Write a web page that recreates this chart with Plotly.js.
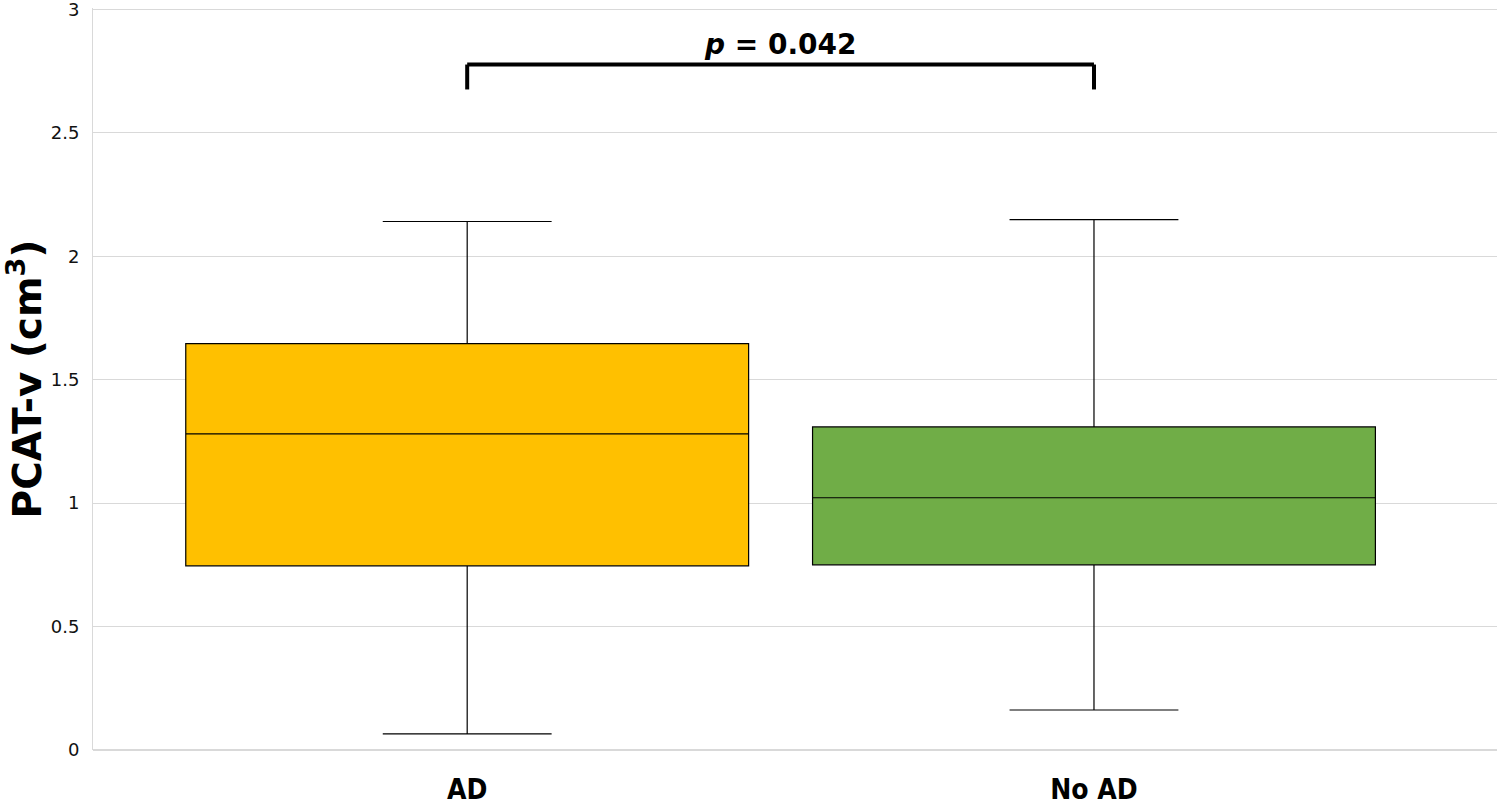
<!DOCTYPE html>
<html>
<head>
<meta charset="utf-8">
<script src="https://cdn.plot.ly/plotly-3.0.1.min.js"></script>
<style>html,body{margin:0;padding:0;background:#fff;}#chart{width:1499px;height:809px;}</style>
</head>
<body>
<div id="chart"></div>
<script>
const categories = ["AD", "No AD"];
const positions = [0, 1];
const lowerWhisker = [0.065, 0.162];
const q1Values = [0.746, 0.750];
const medianValues = [1.281, 1.022];
const q3Values = [1.646, 1.309];
const upperWhisker = [2.141, 2.149];
const boxColors = ["#FFC000", "#70AD47"];
const yTickValues = [0, 0.5, 1, 1.5, 2, 2.5, 3];
const yTickLabels = ["0", "0.5", "1", "1.5", "2", "2.5", "3"];
const pLabel = "<b><i>p</i> = 0.042</b>";
const bracketY = 2.777;
const bracketDrop = 2.676;

const traces = categories.map((c, i) => ({
  type: "box",
  name: c,
  x: [positions[i]],
  q1: [q1Values[i]],
  median: [medianValues[i]],
  q3: [q3Values[i]],
  lowerfence: [lowerWhisker[i]],
  upperfence: [upperWhisker[i]],
  width: 0.898,
  whiskerwidth: 0.3,
  fillcolor: boxColors[i],
  line: {color: "#000000", width: 1.2},
  boxpoints: false,
  hoverinfo: "skip",
  showlegend: false
}));

const layout = {
  width: 1499,
  height: 809,
  margin: {l: 93, r: 2, t: 8, b: 59},
  paper_bgcolor: "#ffffff",
  plot_bgcolor: "#ffffff",
  xaxis: {
    range: [-0.597, 1.643],
    tickvals: positions,
    ticktext: categories.map(c => "<b>" + c + "</b>"),
    tickfont: {family: "Liberation Sans Narrow, DejaVu Sans Condensed, Liberation Sans, Arial, sans-serif", size: 28, color: "#000"},
    showgrid: false,
    zeroline: false,
    showline: false,
    ticks: "",
    ticklabelstandoff: 20
  },
  yaxis: {
    range: [0, 3.006],
    tickvals: yTickValues,
    ticktext: yTickLabels,
    tickfont: {family: "DejaVu Sans, Verdana, sans-serif", size: 18, color: "#111"},
    showgrid: true,
    gridcolor: "#d9d9d9",
    gridwidth: 1,
    zeroline: true,
    zerolinecolor: "#d9d9d9",
    zerolinewidth: 1.5,
    showline: true,
    linecolor: "#d9d9d9",
    linewidth: 1,
    ticks: "",
    ticklabelstandoff: 9,
    ticklabeloverflow: "allow",
    title: {
      text: "<b>PCAT-v (cm<sup>3</sup>)</b>",
      font: {family: "DejaVu Sans, Verdana, sans-serif", size: 39, color: "#000"},
      standoff: 8
    }
  },
  shapes: [
    {type: "line", xref: "x", yref: "y", x0: positions[0], x1: positions[1], y0: bracketY, y1: bracketY, line: {color: "#000", width: 4}},
    {type: "line", xref: "x", yref: "y", x0: positions[0], x1: positions[0], y0: bracketY, y1: bracketDrop, line: {color: "#000", width: 4}},
    {type: "line", xref: "x", yref: "y", x0: positions[1], x1: positions[1], y0: bracketY, y1: bracketDrop, line: {color: "#000", width: 4}}
  ],
  annotations: [
    {
      xref: "x", yref: "y",
      x: (positions[0] + positions[1]) / 2,
      y: bracketY,
      yanchor: "bottom",
      yshift: 2,
      showarrow: false,
      text: pLabel,
      font: {family: "DejaVu Sans, Verdana, sans-serif", size: 28, color: "#000"}
    }
  ]
};

Plotly.newPlot("chart", traces, layout, {displayModeBar: false, staticPlot: true});
</script>
</body>
</html>
